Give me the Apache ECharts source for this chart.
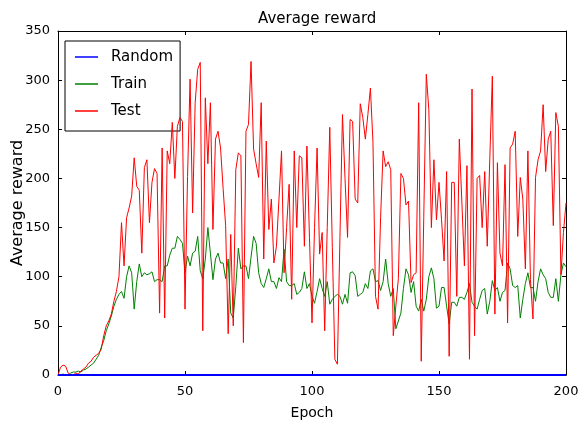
<!DOCTYPE html>
<html>
<head>
<meta charset="utf-8">
<script src="https://cdn.jsdelivr.net/npm/echarts@6/dist/echarts.min.js"></script>
<style>
html,body{margin:0;padding:0;background:#fff;}
#chart{width:579px;height:422px;}
</style>
</head>
<body>
<div id="chart"></div>
<script>
const xTicks = [0, 50, 100, 150, 200];
const yTicks = [0, 50, 100, 150, 200, 250, 300, 350];
const seriesNames = ['Random', 'Train', 'Test'];

const randomValues = [
 0,0,0,0,0,0,0,0,0,0, 0,0,0,0,0,0,0,0,0,0,
 0,0,0,0,0,0,0,0,0,0, 0,0,0,0,0,0,0,0,0,0,
 0,0,0,0,0,0,0,0,0,0, 0,0,0,0,0,0,0,0,0,0,
 0,0,0,0,0,0,0,0,0,0, 0,0,0,0,0,0,0,0,0,0,
 0,0,0,0,0,0,0,0,0,0, 0,0,0,0,0,0,0,0,0,0,
 0,0,0,0,0,0,0,0,0,0, 0,0,0,0,0,0,0,0,0,0,
 0,0,0,0,0,0,0,0,0,0, 0,0,0,0,0,0,0,0,0,0,
 0,0,0,0,0,0,0,0,0,0, 0,0,0,0,0,0,0,0,0,0,
 0,0,0,0,0,0,0,0,0,0, 0,0,0,0,0,0,0,0,0,0,
 0,0,0,0,0,0,0,0,0,0, 0,0,0,0,0,0,0,0,0,0,
 0
];

const trainValues = [
 0, 0, 1, 0, 0, 2, 3, 3, 4, 3,
 5, 6, 8, 10, 12, 16, 20, 28, 35, 45,
 52, 60, 70, 77, 82, 85, 78, 100, 111, 104,
 67, 95, 113, 100, 104, 102, 103, 105, 95, 97,
 97, 95, 111, 111, 122, 129, 129, 141, 138, 134,
 104, 121, 111, 124, 126, 141, 106, 98, 118, 150,
 124, 97, 118, 124, 114, 114, 98, 118, 63, 58,
 90, 129, 108, 111, 111, 98, 120, 141, 134, 104,
 93, 89, 98, 108, 95, 95, 88, 99, 95, 128,
 95, 91, 91, 93, 82, 84, 88, 105, 88, 93,
 80, 73, 85, 98, 88, 80, 95, 72, 77, 80,
 82, 80, 72, 82, 73, 104, 105, 101, 80, 82,
 84, 93, 88, 106, 108, 95, 96, 86, 95, 118,
 93, 80, 88, 47, 55, 63, 88, 108, 102, 84,
 95, 70, 65, 77, 65, 77, 100, 109, 98, 68,
 70, 89, 89, 70, 52, 74, 74, 70, 79, 79,
 77, 84, 93, 74, 70, 67, 77, 86, 88, 62,
 75, 96, 86, 89, 75, 84, 86, 114, 108, 91,
 89, 91, 58, 77, 93, 104, 89, 89, 75, 95,
 108, 102, 98, 84, 79, 79, 98, 75, 102, 114,
 110
];

const testValues = [
 0, 8, 10, 9, 2, 0, 0, 2, 1, 4,
 6, 8, 12, 14, 18, 20, 22, 26, 40, 50,
 55, 62, 75, 85, 100, 155, 111, 160, 170, 182,
 221, 192, 188, 124, 211, 219, 155, 196, 210, 205,
 63, 231, 58, 228, 215, 257, 200, 253, 262, 258,
 67, 202, 301, 165, 277, 311, 318, 45, 282, 215,
 277, 148, 240, 248, 231, 190, 152, 42, 143, 50,
 209, 226, 223, 33, 248, 255, 319, 230, 215, 201,
 277, 118, 238, 148, 179, 114, 131, 179, 228, 104,
 150, 194, 77, 228, 150, 223, 221, 131, 233, 140,
 53, 150, 231, 123, 145, 45, 150, 252, 130, 16,
 11, 140, 265, 200, 140, 260, 258, 179, 175, 276,
 262, 240, 265, 292, 237, 80, 67, 160, 228, 212,
 217, 209, 40, 70, 98, 205, 200, 173, 177, 94,
 102, 104, 277, 14, 160, 306, 270, 150, 219, 158,
 196, 158, 116, 207, 19, 196, 196, 80, 240, 176,
 111, 213, 16, 291, 40, 200, 203, 150, 207, 131,
 220, 304, 62, 216, 124, 111, 214, 53, 231, 235,
 248, 141, 201, 179, 108, 228, 97, 57, 201, 219,
 228, 275, 207, 240, 248, 152, 267, 253, 102, 145,
 175
];

const FONT = 'DejaVu Sans';
const toPairs = arr => arr.map((v, i) => [i, v]);

const chart = echarts.init(document.getElementById('chart'), null, {renderer: 'canvas'});

const axisCommon = {
  type: 'value',
  axisLine: {show: true, onZero: false, lineStyle: {color: '#000', width: 1}},
  axisTick: {show: true, inside: true, length: 4, lineStyle: {color: '#000'}},
  splitLine: {show: false}
};

chart.setOption({
  animation: false,
  backgroundColor: '#fff',
  title: {
    text: 'Average reward',
    left: 253, top: 7,
    textStyle: {fontFamily: FONT, fontSize: 15, fontWeight: 'normal', color: '#000'}
  },
  grid: {left: 58, right: 13, top: 31, bottom: 47, containLabel: false, outerBoundsMode: 'none'},
  legend: {
    orient: 'vertical',
    left: 65, top: 41,
    padding: [6, 7, 10, 10],
    borderColor: '#000', borderWidth: 1,
    backgroundColor: '#fff',
    icon: 'rect',
    itemWidth: 23, itemHeight: 1.5,
    itemGap: 7,
    data: seriesNames,
    textStyle: {fontFamily: FONT, fontSize: 15, color: '#000', lineHeight: 20, padding: [0, 0, 0, 8]}
  },
  xAxis: [
    Object.assign({}, axisCommon, {
      position: 'bottom', min: xTicks[0], max: xTicks[xTicks.length - 1], interval: 50,
      name: 'Epoch', nameLocation: 'middle', nameGap: 31, nameMoveOverlap: false,
      nameTextStyle: {fontFamily: FONT, fontSize: 14, color: '#000'},
      axisLabel: {fontFamily: FONT, fontSize: 13, color: '#000', margin: 10}
    }),
    Object.assign({}, axisCommon, {
      position: 'top', min: xTicks[0], max: xTicks[xTicks.length - 1], interval: 50,
      axisLabel: {show: false}
    })
  ],
  yAxis: [
    Object.assign({}, axisCommon, {
      position: 'left', min: yTicks[0], max: yTicks[yTicks.length - 1], interval: 50,
      name: 'Average reward', nameLocation: 'middle', nameGap: 32, nameRotate: 90,
      nameMoveOverlap: false,
      nameTextStyle: {fontFamily: FONT, fontSize: 16, color: '#000'},
      axisLabel: {fontFamily: FONT, fontSize: 13, color: '#000', margin: 8}
    }),
    Object.assign({}, axisCommon, {
      position: 'right', min: yTicks[0], max: yTicks[yTicks.length - 1], interval: 50,
      axisLabel: {show: false}
    })
  ],
  series: [
    {name: seriesNames[0], type: 'line', data: toPairs(randomValues), symbol: 'none',
     color: '#0000ff', lineStyle: {color: '#0000ff', width: 1.8}, z: 5},
    {name: seriesNames[1], type: 'line', data: toPairs(trainValues), symbol: 'none',
     color: '#008000', lineStyle: {color: '#008000', width: 1}, z: 3},
    {name: seriesNames[2], type: 'line', data: toPairs(testValues), symbol: 'none',
     color: '#ff0000', lineStyle: {color: '#ff0000', width: 1}, z: 4}
  ]
});
</script>
</body>
</html>
